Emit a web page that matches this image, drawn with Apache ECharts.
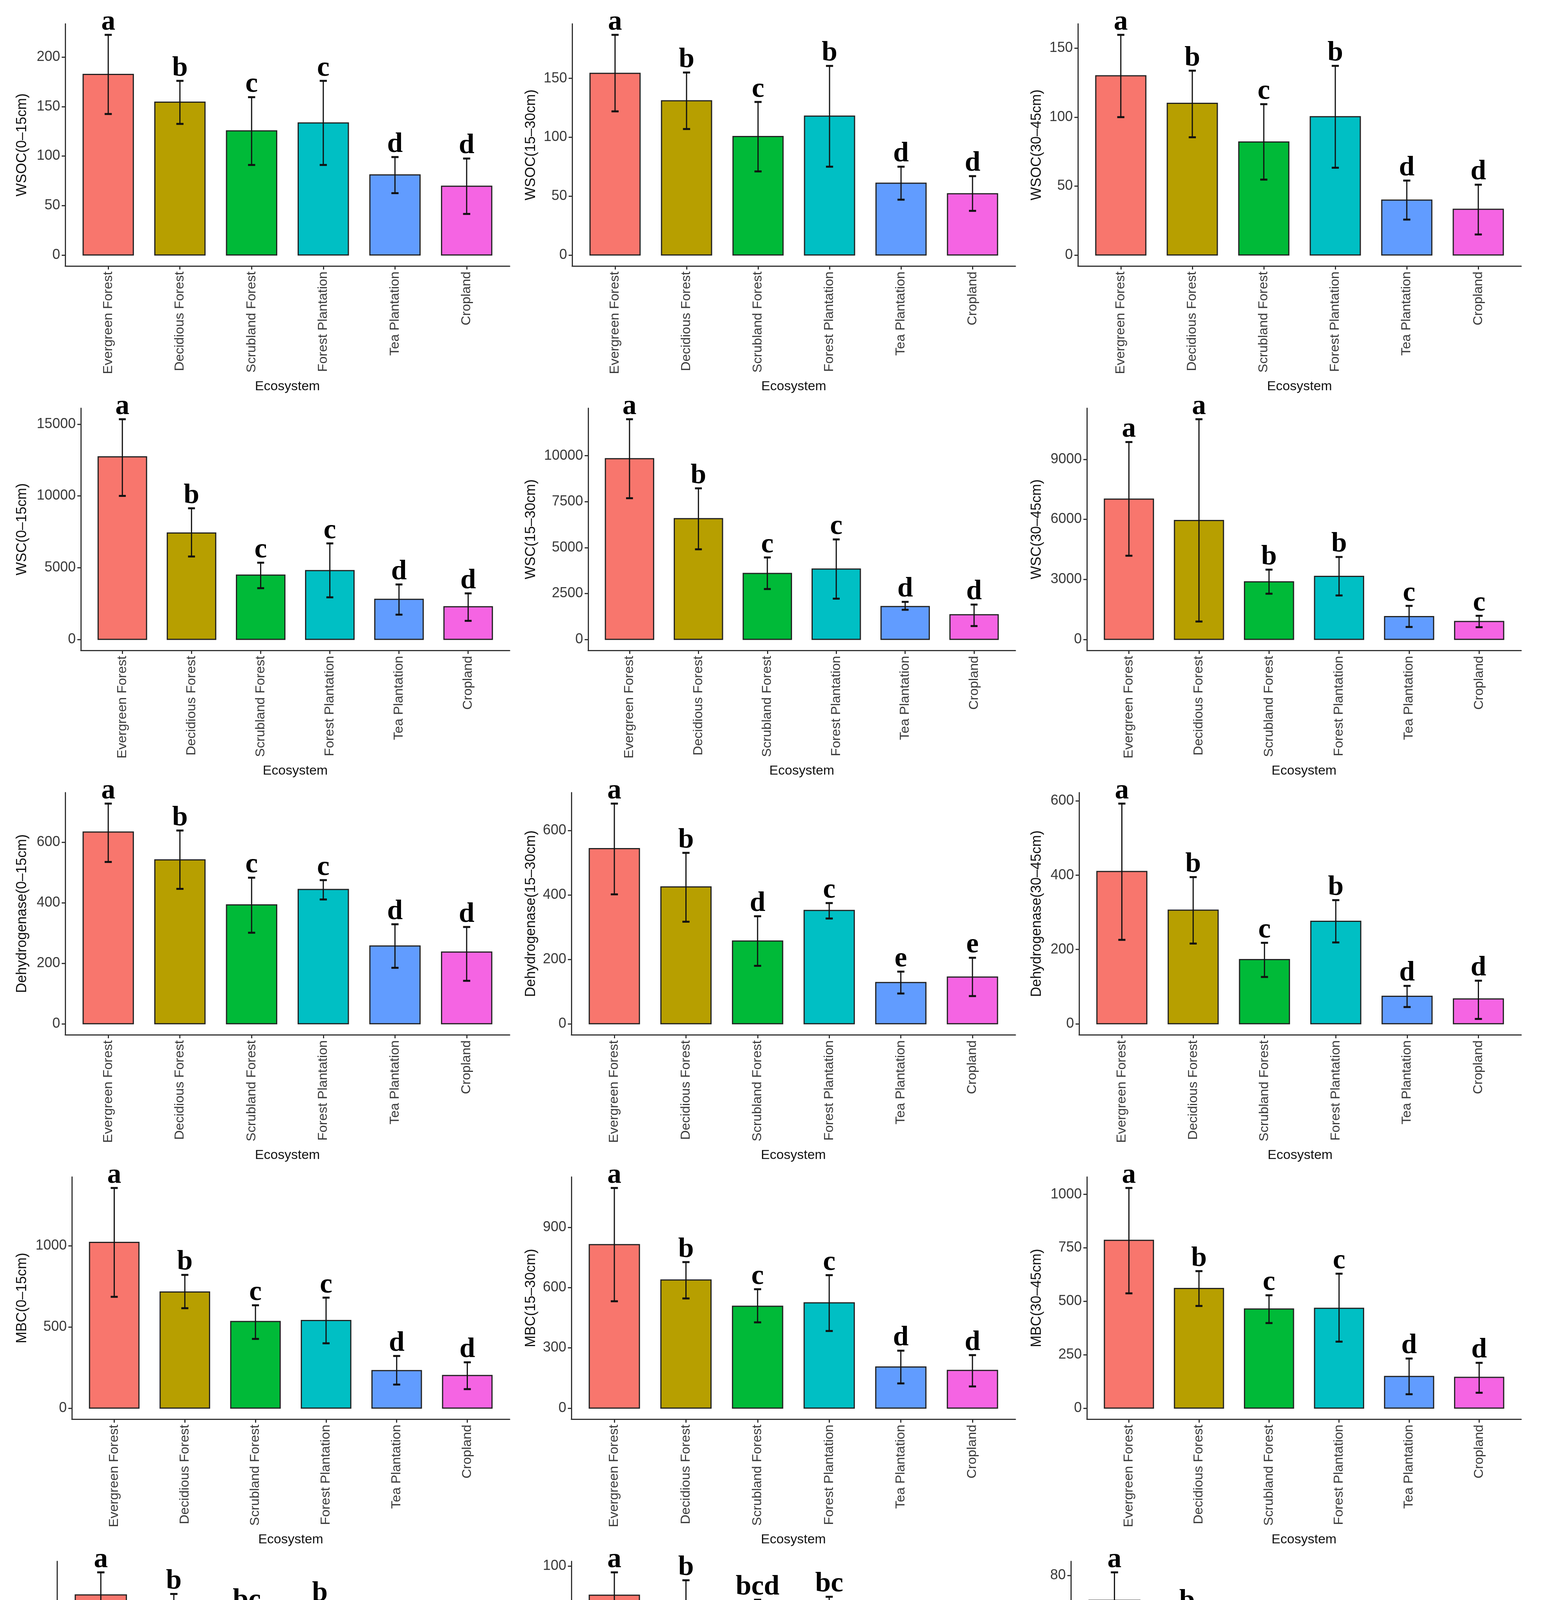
<!DOCTYPE html>
<html>
<head>
<meta charset="utf-8">
<script src="https://cdn.jsdelivr.net/npm/echarts@6/dist/echarts.min.js"></script>
<style>
html, body { margin: 0; padding: 0; background: #fff; }
#main { width: 3956px; height: 5120px; }
</style>
</head>
<body>
<div id="main"></div>
<script>
var ecosystems = ['Evergreen Forest', 'Decidious Forest', 'Scrubland Forest', 'Forest Plantation', 'Tea Plantation', 'Cropland'];
var colors = ['#F8766D', '#B79F00', '#00BA38', '#00BFC4', '#619CFF', '#F564E3'];
var catTicks = [0, 1, 2, 3, 4, 5];

// WSOC
var wsoc1Mean = [182.5, 154.5, 125.5, 133.5, 81, 69.5];
var wsoc1Lo = [142.5, 132.5, 91, 91, 62.5, 41.5];
var wsoc1Hi = [222.5, 176, 159.5, 176, 99, 97.5];
var wsoc1Let = ['a', 'b', 'c', 'c', 'd', 'd'];
var wsoc1Ticks = [0, 50, 100, 150, 200];

var wsoc2Mean = [154.3, 131, 100.6, 118, 61, 52];
var wsoc2Lo = [122, 107, 71, 75, 47, 37.5];
var wsoc2Hi = [187, 155, 130, 160.6, 75, 67];
var wsoc2Let = ['a', 'b', 'c', 'b', 'd', 'd'];
var wsoc2Ticks = [0, 50, 100, 150];

var wsoc3Mean = [130, 110, 82, 100.3, 39.8, 33.2];
var wsoc3Lo = [100, 85.4, 54.7, 63.3, 25.7, 14.9];
var wsoc3Hi = [159.7, 133.7, 109.4, 137.2, 54, 51];
var wsoc3Let = ['a', 'b', 'c', 'b', 'd', 'd'];
var wsoc3Ticks = [0, 50, 100, 150];

// WSC
var wsc1Mean = [12724, 7414, 4483, 4793, 2793, 2276];
var wsc1Lo = [10000, 5776, 3569, 2931, 1724, 1293];
var wsc1Hi = [15345, 9138, 5345, 6690, 3828, 3207];
var wsc1Let = ['a', 'b', 'c', 'c', 'd', 'd'];
var wsc1Ticks = [0, 5000, 10000, 15000];

var wsc2Mean = [9839, 6573, 3589, 3831, 1788, 1344];
var wsc2Lo = [7688, 4906, 2742, 2218, 1613, 726];
var wsc2Hi = [11990, 8226, 4462, 5444, 2043, 1895];
var wsc2Let = ['a', 'b', 'c', 'c', 'd', 'd'];
var wsc2Ticks = [0, 2500, 5000, 7500, 10000];

var wsc3Mean = [7010, 5943, 2878, 3151, 1141, 893];
var wsc3Lo = [4181, 893, 2283, 2196, 620, 608];
var wsc3Hi = [9864, 11005, 3486, 4119, 1675, 1179];
var wsc3Let = ['a', 'a', 'b', 'b', 'c', 'c'];
var wsc3Ticks = [0, 3000, 6000, 9000];

// Dehydrogenase
var dhy1Mean = [634, 542, 393, 444, 257, 237];
var dhy1Lo = [535, 446, 301, 411, 185, 142];
var dhy1Hi = [728, 639, 483, 475, 329, 320];
var dhy1Let = ['a', 'b', 'c', 'c', 'd', 'd'];
var dhy1Ticks = [0, 200, 400, 600];

var dhy2Mean = [544, 425, 257, 352, 128, 145];
var dhy2Lo = [402, 317, 180, 327, 94, 86];
var dhy2Hi = [684, 531, 334, 375, 162, 205];
var dhy2Let = ['a', 'b', 'd', 'c', 'e', 'e'];
var dhy2Ticks = [0, 200, 400, 600];

var dhy3Mean = [410, 306, 173, 276, 74, 67];
var dhy3Lo = [226, 216, 126, 219, 45, 13];
var dhy3Hi = [593, 395, 218, 333, 102, 116];
var dhy3Let = ['a', 'b', 'c', 'b', 'd', 'd'];
var dhy3Ticks = [0, 200, 400, 600];

// MBC
var mbc1Mean = [1020, 715, 533, 539, 231, 201];
var mbc1Lo = [685, 615, 426, 399, 145, 117];
var mbc1Hi = [1355, 820, 633, 680, 321, 282];
var mbc1Let = ['a', 'b', 'c', 'c', 'd', 'd'];
var mbc1Ticks = [0, 500, 1000];

var mbc2Mean = [814, 638, 507, 524, 205, 188];
var mbc2Lo = [532, 546, 427, 384, 123, 108];
var mbc2Hi = [1096, 727, 592, 662, 286, 264];
var mbc2Let = ['a', 'b', 'c', 'c', 'd', 'd'];
var mbc2Ticks = [0, 300, 600, 900];

var mbc3Mean = [785, 560, 464, 467, 148, 144];
var mbc3Lo = [537, 478, 398, 311, 65, 72];
var mbc3Hi = [1030, 641, 528, 629, 232, 212];
var mbc3Let = ['a', 'b', 'c', 'c', 'd', 'd'];
var mbc3Ticks = [0, 250, 500, 750, 1000];

// MBN
var mbn1Mean = [100.5, 79.7, 71.7, 76.4, 62.6, 60.4];
var mbn1Lo = [88, 57.8, 52.5, 57.8, 48.6, 46.2];
var mbn1Hi = [112, 101, 91.3, 94.8, 76.8, 74.5];
var mbn1Let = ['a', 'b', 'bc', 'b', 'cd', 'd'];
var mbn1Ticks = [0, 30, 60, 90];

var mbn2Mean = [87.2, 72.6, 66.8, 67.5, 58.7, 55.9];
var mbn2Lo = [76.4, 51.5, 48, 48, 45.6, 41.6];
var mbn2Hi = [97.3, 93.8, 85.2, 86.5, 71.7, 70.4];
var mbn2Let = ['a', 'b', 'bcd', 'bc', 'cd', 'd'];
var mbn2Ticks = [0, 25, 50, 75, 100];

var mbn3Mean = [70.8, 46.6, 39.4, 41.8, 30.6, 27.7];
var mbn3Lo = [60.5, 27.2, 24.3, 22.2, 18.5, 14.9];
var mbn3Hi = [81.1, 65.8, 54.6, 61.2, 42.6, 40.3];
var mbn3Let = ['a', 'b', 'bc', 'b', 'cd', 'd'];
var mbn3Ticks = [0, 20, 40, 60, 80];

var panels = [
    ['WSOC(0\u201315cm)', wsoc1Mean, wsoc1Lo, wsoc1Hi, wsoc1Let, wsoc1Ticks],
    ['WSOC(15\u201330cm)', wsoc2Mean, wsoc2Lo, wsoc2Hi, wsoc2Let, wsoc2Ticks],
    ['WSOC(30\u201345cm)', wsoc3Mean, wsoc3Lo, wsoc3Hi, wsoc3Let, wsoc3Ticks],
    ['WSC(0\u201315cm)', wsc1Mean, wsc1Lo, wsc1Hi, wsc1Let, wsc1Ticks],
    ['WSC(15\u201330cm)', wsc2Mean, wsc2Lo, wsc2Hi, wsc2Let, wsc2Ticks],
    ['WSC(30\u201345cm)', wsc3Mean, wsc3Lo, wsc3Hi, wsc3Let, wsc3Ticks],
    ['Dehydrogenase(0\u201315cm)', dhy1Mean, dhy1Lo, dhy1Hi, dhy1Let, dhy1Ticks],
    ['Dehydrogenase(15\u201330cm)', dhy2Mean, dhy2Lo, dhy2Hi, dhy2Let, dhy2Ticks],
    ['Dehydrogenase(30\u201345cm)', dhy3Mean, dhy3Lo, dhy3Hi, dhy3Let, dhy3Ticks],
    ['MBC(0\u201315cm)', mbc1Mean, mbc1Lo, mbc1Hi, mbc1Let, mbc1Ticks],
    ['MBC(15\u201330cm)', mbc2Mean, mbc2Lo, mbc2Hi, mbc2Let, mbc2Ticks],
    ['MBC(30\u201345cm)', mbc3Mean, mbc3Lo, mbc3Hi, mbc3Let, mbc3Ticks],
    ['MBN(0\u201315cm)', mbn1Mean, mbn1Lo, mbn1Hi, mbn1Let, mbn1Ticks],
    ['MBN(15\u201330cm)', mbn2Mean, mbn2Lo, mbn2Hi, mbn2Let, mbn2Ticks],
    ['MBN(30\u201345cm)', mbn3Mean, mbn3Lo, mbn3Hi, mbn3Let, mbn3Ticks]
];

// layout (px)
var axisLeft = [[167, 1465, 2760], [207, 1506, 2783], [167, 1463, 2763], [184, 1463, 2783], [146, 1463, 2742]];
var axisRight = [1305, 2600, 3895];
var nameX = [57, 1360, 2655];
var rowTop = 61, plotH = 620, rowPitch = 984;
var lineCol = '#333';
var sans = '"Liberation Sans", Arial, sans-serif';

var grids = [], xAxes = [], yAxes = [], series = [];

panels.forEach(function(p, k) {
    var r = Math.floor(k / 3), c = k % 3;
    var left = axisLeft[r][c];
    var mean = p[1], lo = p[2], hi = p[3], letters = p[4];
    var M = Math.max.apply(null, hi);

    grids.push({
        left: left, top: rowTop + r * rowPitch,
        width: axisRight[c] - left, height: plotH,
        containLabel: false, outerBoundsMode: 'none'
    });
    xAxes.push({
        type: 'value', gridIndex: k, min: -0.6, max: 5.6,
        name: 'Ecosystem', nameLocation: 'middle', nameGap: 292,
        nameTextStyle: { fontSize: 34, color: '#111', fontFamily: sans },
        axisLine: { show: true, onZero: false, lineStyle: { color: lineCol, width: 3 } },
        axisTick: { show: true, length: 9, customValues: catTicks, lineStyle: { color: lineCol, width: 3 } },
        axisLabel: {
            customValues: catTicks, rotate: 90, margin: 14, fontSize: 34, color: '#3a3a3a', fontFamily: sans,
            formatter: function(v) { return ecosystems[Math.round(v)]; }
        },
        splitLine: { show: false }
    });
    yAxes.push({
        type: 'value', gridIndex: k, min: -0.05 * M, max: 1.05 * M,
        name: p[0], nameLocation: 'middle', nameGap: left - nameX[c] - 18,
        nameTextStyle: { fontSize: 36, color: '#111', fontFamily: sans },
        axisLine: { show: true, onZero: false, lineStyle: { color: lineCol, width: 3 } },
        axisTick: { show: true, length: 9, customValues: p[5], lineStyle: { color: lineCol, width: 3 } },
        axisLabel: {
            customValues: p[5], margin: 13, fontSize: 36, color: '#3a3a3a', fontFamily: sans,
            formatter: function(v) { return String(v); }
        },
        splitLine: { show: false }
    });

    var data = mean.map(function(m, i) { return [i, m, lo[i], hi[i]]; });
    series.push({
        type: 'custom',
        xAxisIndex: k, yAxisIndex: k,
        clip: false,
        silent: true,
        data: data,
        renderItem: function(params, api) {
            var i = api.value(0);
            var base = api.coord([i, 0]);
            var top = api.coord([i, api.value(1)]);
            var pLo = api.coord([i, api.value(2)]);
            var pHi = api.coord([i, api.value(3)]);
            var w = api.size([0.7, 0])[0];
            var cw = api.size([0.1, 0])[0];
            var err = { stroke: '#111', lineWidth: 3 };
            var cap = { stroke: '#111', lineWidth: 5 };
            return {
                type: 'group',
                children: [
                    { type: 'rect', shape: { x: base[0] - w / 2, y: top[1], width: w, height: base[1] - top[1] },
                      style: { fill: colors[i], stroke: '#222', lineWidth: 3 } },
                    { type: 'line', shape: { x1: pHi[0], y1: pHi[1], x2: pLo[0], y2: pLo[1] }, style: err },
                    { type: 'line', shape: { x1: pHi[0] - cw / 2, y1: pHi[1], x2: pHi[0] + cw / 2, y2: pHi[1] }, style: cap },
                    { type: 'line', shape: { x1: pLo[0] - cw / 2, y1: pLo[1], x2: pLo[0] + cw / 2, y2: pLo[1] }, style: cap },
                    { type: 'text', x: pHi[0], y: pHi[1] + 4,
                      style: { text: letters[params.dataIndex], fill: '#000', fontSize: 72, fontWeight: 'bold',
                               fontFamily: '"Liberation Serif", "DejaVu Serif", serif', align: 'center', verticalAlign: 'bottom' } }
                ]
            };
        }
    });
});

// empty series only to feed the legend
ecosystems.forEach(function(name, j) {
    series.push({ type: 'scatter', name: name, xAxisIndex: 0, yAxisIndex: 0, data: [], itemStyle: { color: colors[j] } });
});

var legendX = [1626, 1945, 2262];
var legends = [[0, 1], [2, 3], [4, 5]].map(function(pair, c) {
    return {
        orient: 'vertical', left: legendX[c], top: 4982, padding: 0,
        itemWidth: 49, itemHeight: 50, itemGap: 1, icon: 'rect', selectedMode: false,
        itemStyle: { borderColor: '#222', borderWidth: 2 },
        textStyle: { fontSize: 28, color: '#222', fontFamily: sans, padding: [0, 0, 0, 14] },
        data: pair.map(function(j) { return ecosystems[j]; })
    };
});

var chart = echarts.init(document.getElementById('main'));
chart.setOption({
    backgroundColor: '#fff',
    animation: false,
    textStyle: { fontFamily: sans },
    title: { text: 'Ecosystem', left: 1432, top: 5014, padding: 0,
             textStyle: { fontSize: 34, fontWeight: 'normal', color: '#222', fontFamily: sans } },
    legend: legends,
    grid: grids,
    xAxis: xAxes,
    yAxis: yAxes,
    series: series
});
window.onresize = chart.resize;
</script>
</body>
</html>
